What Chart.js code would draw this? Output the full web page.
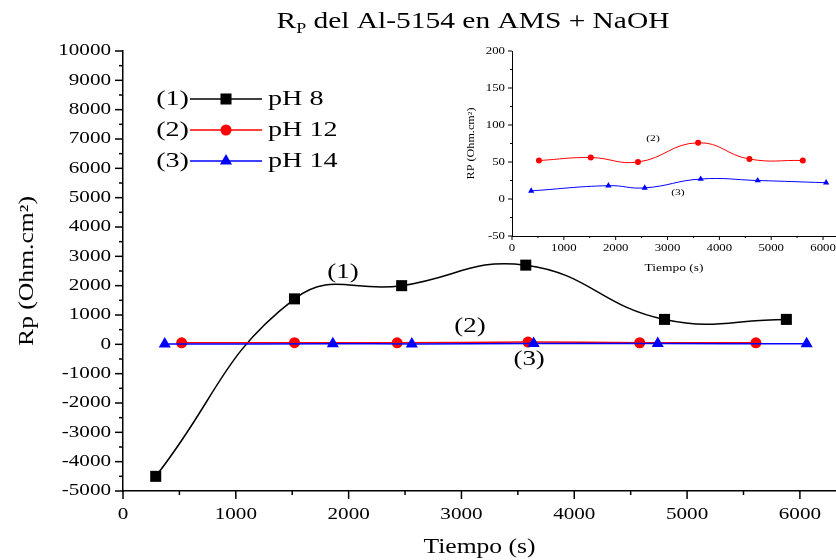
<!DOCTYPE html>
<html>
<head>
<meta charset="utf-8">
<script src="https://cdn.jsdelivr.net/npm/chart.js@4.4.1/dist/chart.umd.min.js"></script>
<style>
  html, body { margin: 0; padding: 0; background: #fff; }
  #wrap { position: relative; width: 836px; height: 560px; }
  #main { position: absolute; left: 0; top: 0; }
  #inset { position: absolute; left: 460px; top: 40px; }
</style>
</head>
<body>
<div id="wrap">
  <canvas id="main" width="836" height="560"></canvas>
  <canvas id="inset" width="376" height="240"></canvas>
</div>
<script>
    // ==================== DATA ====================
    const seriesNames = ['pH 8', 'pH 12', 'pH 14'];
    const seriesTags = ['(1)', '(2)', '(3)'];

    const ph8Time = [290, 1520, 2470, 3570, 4800, 5880];
    const ph8Rp = [-4500, 1550, 2000, 2700, 850, 850];
    const ph12Time = [520, 1520, 2430, 3590, 4580, 5610];
    const ph12Rp = [52, 56, 50, 76, 54, 52];
    const ph14Time = [370, 1860, 2560, 3640, 4740, 6060];
    const ph14Rp = [11, 18, 15, 27, 25, 22];

    const mainXTicks = [0, 1000, 2000, 3000, 4000, 5000, 6000];
    const mainYTicks = [-5000, -4000, -3000, -2000, -1000, 0, 1000, 2000, 3000, 4000, 5000, 6000, 7000, 8000, 9000, 10000];
    const insetXTicks = [0, 1000, 2000, 3000, 4000, 5000, 6000];
    const insetYTicks = [-50, 0, 50, 100, 150, 200];

    // ==================== STYLE ====================
    const FONT = "'Liberation Serif', 'Times New Roman', serif";
    const STRETCH = 1.28;   // the original figure's text is wider than plain Times
    const colors = ['#000000', '#ff0000', '#0000ff'];
    const shapes = ['rect', 'circle', 'triangle'];

    // where the (1) (2) (3) tags sit, in data units
    const mainTagAt = [[1950, 2450], [3075, 600], [3600, -520]];
    const insetTagAt = [null, [2720, 82], [3200, 8]];

    // stretch every text drawn on a context horizontally
    function stretchText(ctx) {
        const fill = ctx.fillText;
        ctx.fillText = function (text, x, y) {
            this.save();
            this.translate(x, y);
            this.scale(STRETCH, 1);
            fill.call(this, text, 0, 0);
            this.restore();
        };
    }

    function pts(xs, ys) {
        return xs.map((x, i) => ({ x: x, y: ys[i] }));
    }

    function midpoints(major) {
        const out = [];
        for (let i = 0; i < major.length - 1; i++) out.push((major[i] + major[i + 1]) / 2);
        return out;
    }

    // Major / minor tick marks outside both axes
    const tickMarks = {
        id: 'tickMarks',
        afterDraw(chart, args, o) {
            const { ctx, scales: { x, y } } = chart;
            ctx.save();
            ctx.strokeStyle = '#000';
            ctx.lineWidth = o.width;
            const mark = (x1, y1, x2, y2) => { ctx.beginPath(); ctx.moveTo(x1, y1); ctx.lineTo(x2, y2); ctx.stroke(); };
            const xMinor = midpoints(o.xMajor).concat([o.xMajor[o.xMajor.length - 1] + (o.xMajor[1] - o.xMajor[0]) / 2]);
            o.xMajor.forEach(v => { const p = x.getPixelForValue(v); mark(p, x.top, p, x.top + o.major); });
            xMinor.forEach(v => { if (v <= x.max) { const p = x.getPixelForValue(v); mark(p, x.top, p, x.top + o.minor); } });
            o.yMajor.forEach(v => { const p = y.getPixelForValue(v); mark(y.right - o.major, p, y.right, p); });
            midpoints(o.yMajor).forEach(v => { const p = y.getPixelForValue(v); mark(y.right - o.minor, p, y.right, p); });
            ctx.restore();
        }
    };

    function fixedTicks(list) {
        return function (scale) { scale.ticks = list.map(v => ({ value: v })); };
    }

    // pin a scale's size and drop the extra room chart.js keeps for edge labels
    function pinSize(prop, size) {
        return function (s) {
            s[prop] = size;
            s.paddingLeft = 0; s.paddingRight = 0; s.paddingTop = 0; s.paddingBottom = 0;
        };
    }

    const plainNumber = v => String(v);

    function makeDataset(i, xs, ys, radius, width) {
        return {
            label: seriesNames[i],
            data: pts(xs, ys),
            showLine: true,
            tension: 0.45,
            borderColor: colors[i],
            backgroundColor: colors[i],
            borderWidth: width,
            pointStyle: shapes[i],
            pointRadius: radius,
            pointBorderWidth: 0,
            pointHoverRadius: radius,
            clip: false,
            order: 2 - i
        };
    }

    // Title, legend and curve tags on the main chart
    const mainDecor = {
        id: 'mainDecor',
        afterDraw(chart) {
            const { ctx, scales: { x, y } } = chart;
            ctx.save();
            ctx.fillStyle = '#000';

            // title with subscript P
            const big = `23px ${FONT}`, small = `14px ${FONT}`;
            const rest = ' del Al-5154 en AMS + NaOH';
            ctx.font = big; const wR = ctx.measureText('R').width * STRETCH;
            const wRest = ctx.measureText(rest).width * STRETCH;
            ctx.font = small; const wP = ctx.measureText('P').width * STRETCH;
            let tx = 473 - (wR + wP + wRest) / 2;
            ctx.textAlign = 'left';
            ctx.textBaseline = 'alphabetic';
            ctx.font = big; ctx.fillText('R', tx, 28); tx += wR;
            ctx.font = small; ctx.fillText('P', tx, 33); tx += wP;
            ctx.font = big; ctx.fillText(rest, tx, 28);

            // legend: "(n) ——■—— pH x"
            ctx.font = `22px ${FONT}`;
            ctx.textBaseline = 'middle';
            chart.data.datasets.forEach((ds, i) => {
                const ly = 99 + i * 31;
                ctx.textAlign = 'right';
                ctx.fillStyle = '#000';
                ctx.fillText(seriesTags[i], 189, ly);
                ctx.strokeStyle = ds.borderColor;
                ctx.lineWidth = 1.5;
                ctx.beginPath(); ctx.moveTo(190, ly); ctx.lineTo(262, ly); ctx.stroke();
                ctx.fillStyle = ds.backgroundColor;
                Chart.helpers.drawPoint(ctx, { pointStyle: ds.pointStyle, radius: ds.pointRadius, rotation: 0, borderWidth: 0 }, 226, ly);
                ctx.fillStyle = '#000';
                ctx.textAlign = 'left';
                ctx.fillText(seriesNames[i], 268, ly);
            });

            // tags next to the curves
            ctx.font = `21px ${FONT}`;
            ctx.textAlign = 'center';
            mainTagAt.forEach((p, i) => {
                ctx.fillText(seriesTags[i], x.getPixelForValue(p[0]), y.getPixelForValue(p[1]));
            });
            ctx.restore();
        }
    };

    const insetDecor = {
        id: 'insetDecor',
        afterDraw(chart) {
            const { ctx, scales: { x, y } } = chart;
            ctx.save();
            ctx.fillStyle = '#000';
            ctx.font = `9px ${FONT}`;
            ctx.textAlign = 'center';
            ctx.textBaseline = 'middle';
            insetTagAt.forEach((p, i) => {
                if (p) ctx.fillText(seriesTags[i], x.getPixelForValue(p[0]), y.getPixelForValue(p[1]));
            });
            ctx.restore();
        }
    };

    // ==================== MAIN CHART ====================
    const mainCanvas = document.getElementById('main');
    stretchText(mainCanvas.getContext('2d'));

    new Chart(mainCanvas, {
        type: 'scatter',
        data: {
            datasets: [
                makeDataset(0, ph8Time, ph8Rp, 7.8, 1.5),
                makeDataset(1, ph12Time, ph12Rp, 5.5, 1.5),
                makeDataset(2, ph14Time, ph14Rp, 7, 1.5)
            ]
        },
        options: {
            responsive: false,
            animation: false,
            devicePixelRatio: 1,
            layout: { autoPadding: false, padding: { top: 51, left: 0, right: 0, bottom: 0 } },
            plugins: {
                legend: { display: false },
                title: { display: false },
                tooltip: { enabled: false },
                tickMarks: { xMajor: mainXTicks, yMajor: mainYTicks, major: 8, minor: 4, width: 1.5 }
            },
            scales: {
                x: {
                    type: 'linear', min: 0, max: 6320,
                    afterBuildTicks: fixedTicks(mainXTicks),
                    afterFit: pinSize('height', 69),
                    grid: { display: false, drawTicks: false },
                    border: { display: true, color: '#000', width: 1.5 },
                    ticks: { color: '#000', padding: 14, maxRotation: 0, autoSkip: false, callback: plainNumber, font: { family: FONT, size: 16.5 } },
                    title: { display: true, text: 'Tiempo (s)', color: '#000', font: { family: FONT, size: 20, lineHeight: 1 }, padding: { top: 0, bottom: 2 } }
                },
                y: {
                    type: 'linear', min: -5000, max: 10000,
                    afterBuildTicks: fixedTicks(mainYTicks),
                    afterFit: pinSize('width', 123),
                    grid: { display: false, drawTicks: false },
                    border: { display: true, color: '#000', width: 1.5 },
                    ticks: { color: '#000', padding: 12, autoSkip: false, callback: plainNumber, font: { family: FONT, size: 16.5 } },
                    title: { display: true, text: 'Rp (Ohm.cm²)', color: '#000', font: { family: FONT, size: 20, lineHeight: 1 }, padding: { top: 18, bottom: 0 } }
                }
            }
        },
        plugins: [tickMarks, mainDecor]
    });

    // ==================== INSET ====================
    const insetCanvas = document.getElementById('inset');
    stretchText(insetCanvas.getContext('2d'));

    new Chart(insetCanvas, {
        type: 'scatter',
        data: {
            datasets: [
                makeDataset(1, ph12Time, ph12Rp, 3, 1),
                makeDataset(2, ph14Time, ph14Rp, 3.6, 1)
            ]
        },
        options: {
            responsive: false,
            animation: false,
            devicePixelRatio: 1,
            layout: { autoPadding: false, padding: { top: 11, left: 0, right: 0, bottom: 0 } },
            plugins: {
                legend: { display: false },
                title: { display: false },
                tooltip: { enabled: false },
                tickMarks: { xMajor: insetXTicks, yMajor: insetYTicks, major: 4, minor: 2, width: 1 }
            },
            scales: {
                x: {
                    type: 'linear', min: 0, max: 6250,
                    afterBuildTicks: fixedTicks(insetXTicks),
                    afterFit: pinSize('height', 44),
                    grid: { display: false, drawTicks: false },
                    border: { display: true, color: '#000', width: 1 },
                    ticks: { color: '#000', padding: 6, maxRotation: 0, autoSkip: false, callback: plainNumber, font: { family: FONT, size: 10 } },
                    title: { display: true, text: 'Tiempo (s)', color: '#000', font: { family: FONT, size: 10.5, lineHeight: 1 }, padding: { top: 0, bottom: 7 } }
                },
                y: {
                    type: 'linear', min: -50, max: 200,
                    afterBuildTicks: fixedTicks(insetYTicks),
                    afterFit: pinSize('width', 52),
                    grid: { display: false, drawTicks: false },
                    border: { display: true, color: '#000', width: 1 },
                    ticks: { color: '#000', padding: 7, autoSkip: false, callback: plainNumber, font: { family: FONT, size: 10 } },
                    title: { display: true, text: 'RP (Ohm.cm²)', color: '#000', font: { family: FONT, size: 9.5, lineHeight: 1 }, padding: { top: 7, bottom: 0 } }
                }
            }
        },
        plugins: [tickMarks, insetDecor]
    });
</script>
</body>
</html>
